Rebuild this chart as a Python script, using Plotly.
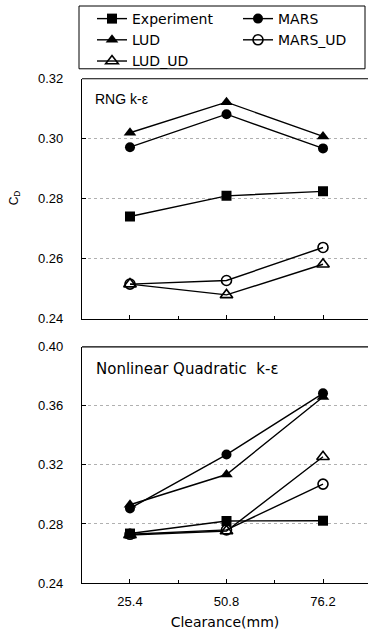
import plotly.graph_objects as go

clearance = [25.4, 50.8, 76.2]
x_ticklabels = ["25.4", "50.8", "76.2"]

# RNG k-epsilon panel
rng_experiment = [0.2741, 0.2810, 0.2825]
rng_mars = [0.2972, 0.3082, 0.2968]
rng_lud = [0.3020, 0.3122, 0.3008]
rng_mars_ud = [0.2516, 0.2528, 0.2638]
rng_lud_ud = [0.2516, 0.2480, 0.2582]

# Nonlinear Quadratic k-epsilon panel
nlq_experiment = [0.2735, 0.2820, 0.2822]
nlq_mars = [0.2905, 0.3270, 0.3685]
nlq_lud = [0.2930, 0.3135, 0.3660]
nlq_mars_ud = [0.2730, 0.2760, 0.3070]
nlq_lud_ud = [0.2725, 0.2752, 0.3255]

series_names = ["Experiment", "MARS", "LUD", "MARS_UD", "LUD_UD"]
symbols = ["square", "circle", "triangle-up", "circle-open", "triangle-up-open"]
legend_ids = ["legend", "legend2", "legend", "legend2", "legend"]

W, H = 368, 636
ml, mr, mt, mb = 82, 0, 5, 53
ph = H - mt - mb
pw = W - ml - mr

def fy(px):
    return (H - mb - px) / ph

def fx(px):
    return (px - ml) / pw

fig = go.Figure()

panels = [
    ([rng_experiment, rng_mars, rng_lud, rng_mars_ud, rng_lud_ud], "x", "y", True),
    ([nlq_experiment, nlq_mars, nlq_lud, nlq_mars_ud, nlq_lud_ud], "x2", "y2", False),
]
for data, xa, ya, show in panels:
    for name, sym, lg, vals in zip(series_names, symbols, legend_ids, data):
        open_ = sym.endswith("open")
        fig.add_trace(go.Scatter(
            x=clearance, y=vals, name=name, xaxis=xa, yaxis=ya, legend=lg,
            mode="lines+markers", showlegend=show,
            line=dict(color="black", width=1.4),
            marker=dict(symbol=sym, size=11 if "triangle" in sym else 10,
                        color="black", line=dict(color="black", width=1.6 if open_ else 0)),
        ))

font = "Liberation Sans, Arial, sans-serif"
wide = "DejaVu Sans, Verdana, sans-serif"
axis_common = dict(
    showline=True, linecolor="black", linewidth=1.2,
    ticks="inside", ticklen=4, tickcolor="black",
    tickfont=dict(family=font, size=13, color="black"),
    zeroline=False,
)
xcommon = dict(axis_common, range=[12.77, 88.04], tickvals=clearance, ticktext=x_ticklabels,
               showgrid=False, mirror=False, ticklabelstandoff=6,
               minor=dict(tickvals=[12.7, 38.1, 63.5], ticks="inside", ticklen=3, tickcolor="black"))
ycommon = dict(axis_common, showgrid=True, gridcolor="#b0b0b0", griddash="dot", gridwidth=1,
               ticklabelstandoff=15)

legend_common = dict(
    orientation="v", y=fy(1), xanchor="left", yanchor="top",
    borderwidth=0, bgcolor="rgba(0,0,0,0)",
    font=dict(family=wide, size=14, color="black"),
    tracegroupgap=0, itemwidth=30, traceorder="normal",
)

fig.update_layout(
    width=W, height=H,
    margin=dict(l=ml, r=mr, t=mt, b=mb),
    paper_bgcolor="white", plot_bgcolor="white",
    font=dict(family=font, size=13, color="black"),
    showlegend=True,
    legend=dict(legend_common, x=fx(92)),
    legend2=dict(legend_common, x=fx(238)),
    xaxis=dict(xcommon, anchor="y", domain=[0, 1], showticklabels=False),
    yaxis=dict(ycommon, anchor="x", domain=[fy(318), fy(77)], range=[0.24, 0.32],
               tickvals=[0.24, 0.26, 0.28, 0.30, 0.32], ticktext=["0.24", "0.26", "0.28", "0.30", "0.32"]),
    xaxis2=dict(xcommon, anchor="y2", domain=[0, 1],
                title=dict(text="Clearance(mm)", font=dict(family=wide, size=14), standoff=9)),
    yaxis2=dict(ycommon, anchor="x2", domain=[0, fy(346)], range=[0.24, 0.40],
                tickvals=[0.24, 0.28, 0.32, 0.36, 0.40], ticktext=["0.24", "0.28", "0.32", "0.36", "0.40"]),
    annotations=[
        dict(text="RNG k-ε", xref="paper", yref="paper", x=fx(93), y=fy(97),
             xanchor="left", yanchor="middle", showarrow=False, font=dict(family=font, size=14)),
        dict(text="Nonlinear Quadratic  k-ε", xref="paper", yref="paper", x=fx(94), y=fy(368),
             xanchor="left", yanchor="middle", showarrow=False, font=dict(family=wide, size=15)),
        dict(text="C<sub>D</sub>", xref="paper", yref="paper", x=fx(15), y=fy(197),
             xanchor="center", yanchor="middle", textangle=-90, showarrow=False,
             font=dict(family=font, size=12)),
    ],
)
fig.add_shape(type="line", xref="x domain", yref="y domain", x0=0, x1=1, y0=1, y1=1,
              line=dict(color="black", width=1.2))
fig.add_shape(type="line", xref="x2 domain", yref="y2 domain", x0=0, x1=1, y0=1, y1=1,
              line=dict(color="black", width=1.2))
# legend frame
fig.add_shape(type="rect", xref="paper", yref="paper", x0=fx(79), x1=fx(365), y0=fy(67), y1=fy(4),
              line=dict(color="black", width=1), fillcolor="white", layer="above")

fig.write_html("out.html", config={"displayModeBar": False},
               post_script="document.body.style.margin='0';")
